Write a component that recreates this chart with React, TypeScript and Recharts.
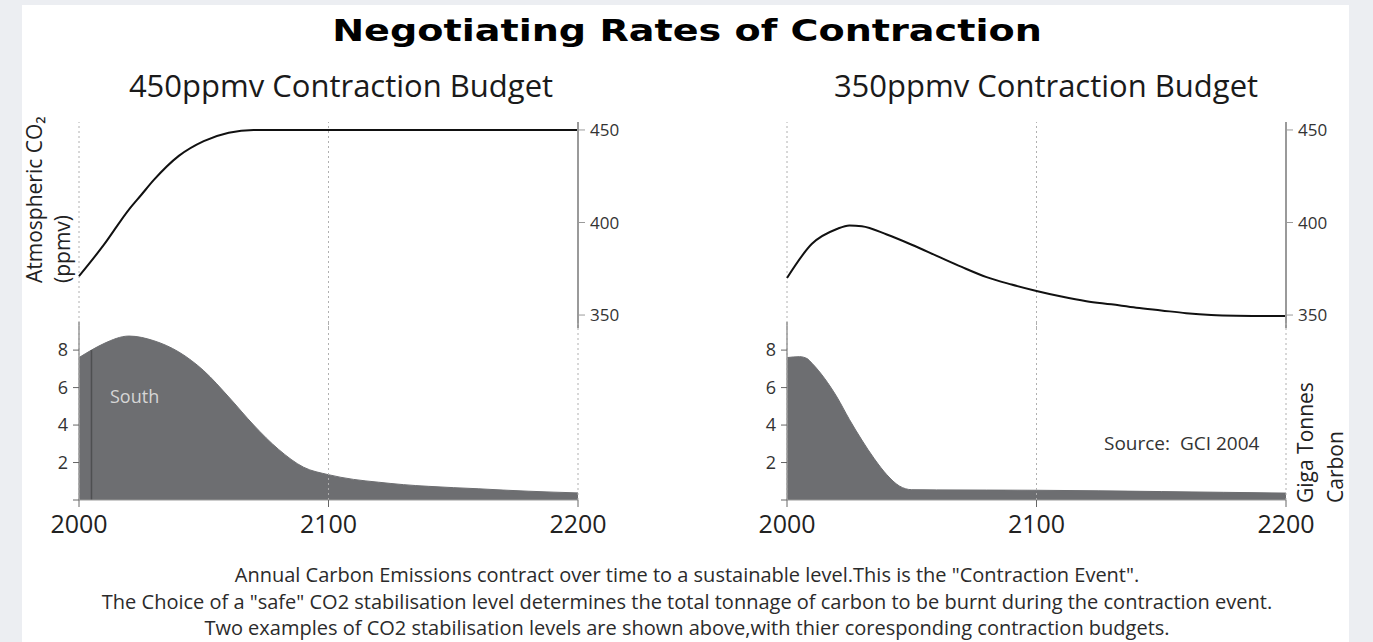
import { ComposedChart, Line, Area, XAxis, YAxis, ReferenceLine } from 'recharts'

// CO2 concentration (ppmv), sampled every decade
const co2Years = [2000, 2010, 2020, 2025, 2030, 2040, 2050, 2060, 2070, 2080, 2090, 2100, 2110, 2120, 2130, 2140, 2150, 2160, 2170, 2180, 2190, 2200]
const co2For450 = [371, 388, 407, 415, 423, 436, 444, 448.5, 450, 450, 450, 450, 450, 450, 450, 450, 450, 450, 450, 450, 450, 450]
const co2For350 = [370, 388.5, 396.5, 398.4, 398, 393.5, 388, 382, 376, 370.5, 366.5, 363, 360, 357.5, 355.8, 354, 352.5, 351, 350, 349.6, 349.5, 349.5]

// Annual emissions (GtC)
const emYears450 = [2000, 2005, 2010, 2020, 2030, 2040, 2050, 2060, 2070, 2080, 2090, 2100, 2110, 2120, 2130, 2140, 2150, 2160, 2170, 2180, 2190, 2200]
const emissions450 = [7.6, 8.0, 8.35, 8.75, 8.5, 7.9, 6.9, 5.5, 4.0, 2.7, 1.75, 1.35, 1.1, 0.95, 0.82, 0.73, 0.66, 0.6, 0.53, 0.47, 0.42, 0.38]
const emYears350 = [2000, 2005, 2008, 2010, 2015, 2020, 2025, 2030, 2035, 2040, 2045, 2050, 2060, 2080, 2100, 2125, 2150, 2175, 2200]
const emissions350 = [7.6, 7.65, 7.55, 7.3, 6.5, 5.5, 4.3, 3.2, 2.2, 1.35, 0.75, 0.55, 0.54, 0.53, 0.52, 0.49, 0.45, 0.41, 0.37]

const southYear = 2005

const xTicks = [2000, 2100, 2200]
const co2Ticks = [350, 400, 450]
const emTicks = [0, 2, 4, 6, 8]

const captionLines = [
  'Annual Carbon Emissions contract over time to a sustainable level.This is the "Contraction Event".',
  'The Choice of a "safe" CO2 stabilisation level determines the total tonnage of carbon to be burnt during the contraction event.',
  'Two examples of CO2 stabilisation levels are shown above,with thier coresponding contraction budgets.',
]

const FONT = "'Open Sans', sans-serif"
const AXIS_GREY = '#9a9a9a'
const DOT_GREY = '#b0b0b0'
const FILL_GREY = '#6d6e71'

const PLOT_W = 499

interface PanelProps {
  left: number // page x of the year-2000 line
  co2: number[]
  co2Domain: [number, number]
  emYears: number[]
  emissions: number[]
  divider?: number
}

function Panel({ left, co2, co2Domain, emYears, emissions, divider }: PanelProps) {
  const co2Data = co2Years.map((year, i) => ({ year, co2: co2[i] }))
  const emData = emYears.map((year, i) => ({ year, em: emissions[i] }))
  const boxLeft = left - 80
  const dividerValue = divider !== undefined ? emissions[emYears.indexOf(divider)] : 0

  return (
    <>
      {/* atmospheric CO2, right-hand axis */}
      <div style={{ position: 'absolute', left: boxLeft, top: 0 }}>
        <ComposedChart
          width={80 + PLOT_W + 60}
          height={328}
          data={co2Data}
          margin={{ top: 122, right: 0, bottom: 0, left: 80 }}
        >
          <XAxis dataKey="year" type="number" domain={[2000, 2200]} ticks={xTicks} hide />
          <YAxis
            orientation="right"
            width={60}
            domain={co2Domain}
            ticks={co2Ticks}
            allowDataOverflow
            axisLine={{ stroke: AXIS_GREY, strokeWidth: 2 }}
            tickLine={{ stroke: AXIS_GREY }}
            tickSize={7}
            tickMargin={5}
            tick={{ fontSize: 17, fill: '#333', fontFamily: FONT }}
          />
          <ReferenceLine x={2000} stroke={DOT_GREY} strokeDasharray="2 3" />
          <ReferenceLine x={2100} stroke={DOT_GREY} strokeDasharray="2 3" />
          <Line
            dataKey="co2"
            type="monotone"
            stroke="#111"
            strokeWidth={2}
            dot={false}
            isAnimationActive={false}
          />
        </ComposedChart>
      </div>

      {/* annual emissions, left-hand axis */}
      <div style={{ position: 'absolute', left: boxLeft, top: 0 }}>
        <ComposedChart
          width={80 + PLOT_W + 40}
          height={540}
          data={emData}
          margin={{ top: 322, right: 40, bottom: 0, left: 40 }}
        >
          <XAxis
            dataKey="year"
            type="number"
            domain={[2000, 2200]}
            ticks={xTicks}
            height={40}
            axisLine={{ stroke: AXIS_GREY }}
            tickLine={{ stroke: '#666' }}
            tickSize={7}
            tickMargin={8}
            tick={{ fontSize: 25, fill: '#222', fontFamily: FONT }}
          />
          <YAxis
            width={40}
            domain={[0, 9.5]}
            ticks={emTicks}
            allowDataOverflow
            axisLine={{ stroke: AXIS_GREY, strokeWidth: 1.5 }}
            tickLine={{ stroke: '#666' }}
            tickSize={6}
            tickMargin={5}
            tickFormatter={(v: number) => (v === 0 ? '' : String(v))}
            tick={{ fontSize: 18, fill: '#333', fontFamily: FONT }}
          />
          <Area
            dataKey="em"
            type="monotone"
            stroke={FILL_GREY}
            strokeWidth={1}
            fill={FILL_GREY}
            fillOpacity={1}
            isAnimationActive={false}
          />
          <ReferenceLine x={2000} stroke={DOT_GREY} strokeDasharray="2 3" />
          <ReferenceLine x={2100} stroke={DOT_GREY} strokeDasharray="2 3" />
          <ReferenceLine x={2200} stroke={DOT_GREY} strokeDasharray="2 3" />
          {divider !== undefined && (
            <ReferenceLine
              segment={[{ x: divider, y: 0 }, { x: divider, y: dividerValue }]}
              stroke="#4e4f51"
              strokeWidth={1.5}
            />
          )}
        </ComposedChart>
      </div>
    </>
  )
}

export default function App() {
  return (
    <div
      style={{
        position: 'absolute', left: 0, top: 0, width: 1373, height: 642,
        background: '#eceef2', fontFamily: FONT, overflow: 'hidden',
      }}
    >
      <div style={{ position: 'absolute', left: 22, top: 5, width: 1327, height: 637, background: '#fff' }} />

      <Panel left={79} co2={co2For450} co2Domain={[343, 454.3]} emYears={emYears450} emissions={emissions450} divider={southYear} />
      <Panel left={787} co2={co2For350} co2Domain={[343, 454.3]} emYears={emYears350} emissions={emissions350} />

      <svg width={1373} height={642} style={{ position: 'absolute', left: 0, top: 0, pointerEvents: 'none' }}>
        {/* the original title is a wide heavy face: stretch a bold one to the same width */}
        <text
          transform="translate(687,41) scale(1.23,1)"
          textAnchor="middle"
          fontFamily="'DejaVu Sans', sans-serif" fontWeight="bold" fontSize={31} fill="#000"
        >
          Negotiating Rates of Contraction
        </text>
        <text x={341} y={97} textAnchor="middle" fontSize={31} fill="#1a1a1a">450ppmv Contraction Budget</text>
        <text x={1046} y={97} textAnchor="middle" fontSize={31} fill="#1a1a1a">350ppmv Contraction Budget</text>

        <text transform="translate(42,283) rotate(-90)" fontSize={21} fill="#222">Atmospheric CO₂</text>
        <text transform="translate(70,283) rotate(-90)" fontSize={21} fill="#222">(ppmv)</text>

        <text x={110} y={403} fontSize={18} fill="#d6d6d6">South</text>
        <text x={1104} y={450} fontSize={19} fill="#333" style={{ whiteSpace: 'pre' }}>Source:  GCI 2004</text>

        <text transform="translate(1313,503) rotate(-90)" fontSize={21} fill="#222">Giga Tonnes</text>
        <text transform="translate(1343,503) rotate(-90)" fontSize={21} fill="#222">Carbon</text>

        {captionLines.map((line, i) => (
          <text key={i} x={687} y={582 + i * 26.5} textAnchor="middle" fontSize={20} fill="#2b2b2b">
            {line}
          </text>
        ))}
      </svg>
    </div>
  )
}
